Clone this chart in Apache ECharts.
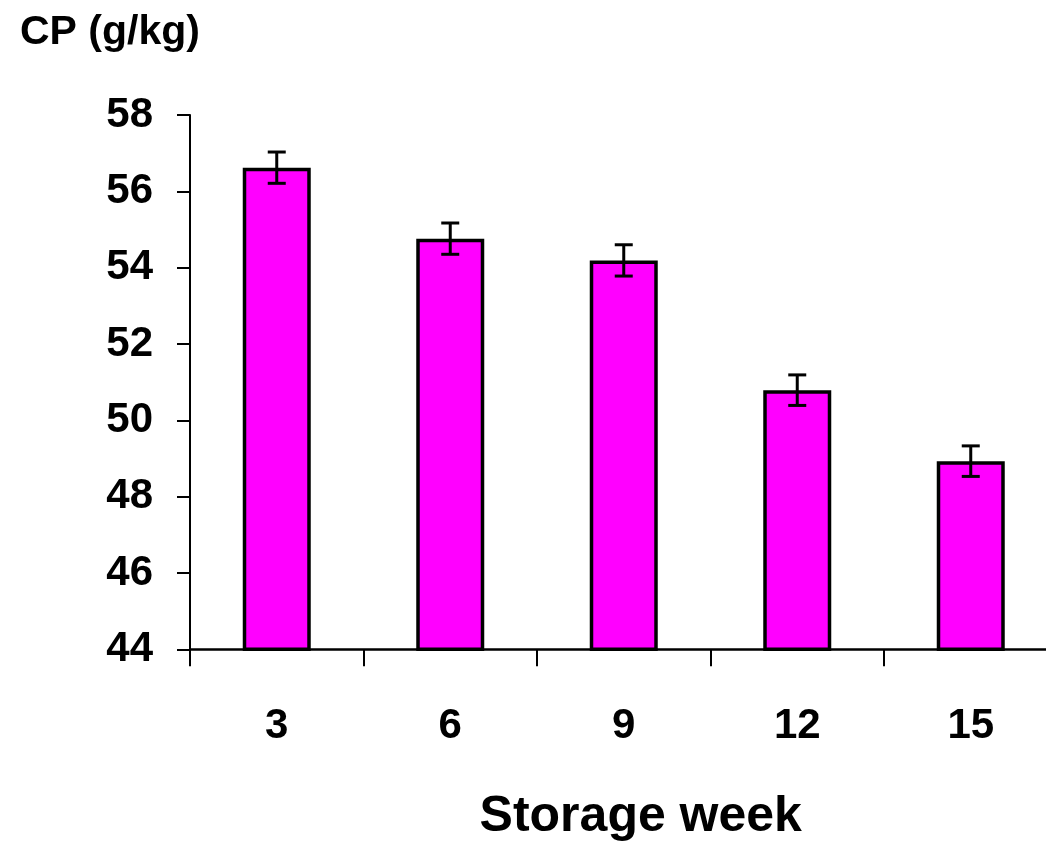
<!DOCTYPE html>
<html>
<head>
<meta charset="utf-8">
<script src="https://cdn.jsdelivr.net/npm/echarts@6/dist/echarts.min.js"></script>
<style>
html,body{margin:0;padding:0;background:#fff;}
#chart{width:1046px;height:849px;}
</style>
</head>
<body>
<div id="chart"></div>
<script>
const categories = ['3', '6', '9', '12', '15'];
const cpValues = [56.62, 54.76, 54.19, 50.79, 48.93];
const cpErrors = [0.41, 0.41, 0.41, 0.40, 0.40];
const yTicks = [44, 46, 48, 50, 52, 54, 56, 58];

const FONT = '"Liberation Sans", Arial, sans-serif';

const chart = echarts.init(document.getElementById('chart'));
const errorData = categories.map((c, i) => [i, cpValues[i] - cpErrors[i], cpValues[i] + cpErrors[i]]);

chart.setOption({
  animation: false,
  backgroundColor: '#ffffff',
  title: {
    text: 'CP (g/kg)',
    left: 15,
    top: 7,
    textStyle: { fontFamily: FONT, fontWeight: 'bold', fontSize: 41, color: '#000' }
  },
  grid: { left: 190, top: 115, width: 867.5, height: 534.3, containLabel: false, outerBoundsMode: 'none' },
  xAxis: {
    type: 'category',
    data: categories,
    name: 'Storage week',
    nameLocation: 'middle',
    nameGap: 143,
    nameTextStyle: { fontFamily: FONT, fontWeight: 'bold', fontSize: 50, color: '#000', padding: [0, 0, 0, 34] },
    axisLine: { show: true, lineStyle: { color: '#000', width: 2.5 } },
    axisTick: { show: true, inside: false, alignWithLabel: false, interval: 0, length: 17, lineStyle: { color: '#000', width: 2 } },
    axisLabel: { margin: 56, fontFamily: FONT, fontWeight: 'bold', fontSize: 42, color: '#000' }
  },
  yAxis: {
    type: 'value',
    min: yTicks[0],
    max: yTicks[yTicks.length - 1],
    interval: 2,
    axisLine: { show: true, lineStyle: { color: '#000', width: 2 } },
    axisTick: { show: true, length: 13, lineStyle: { color: '#000', width: 2 } },
    splitLine: { show: false },
    axisLabel: { margin: 37, fontFamily: FONT, fontWeight: 'bold', fontSize: 42, color: '#000' }
  },
  series: [
    {
      type: 'bar',
      data: cpValues,
      barWidth: 68,
      itemStyle: { color: '#ff00ff', borderColor: '#000', borderWidth: 3.5 }
    },
    {
      type: 'custom',
      data: errorData,
      z: 10,
      renderItem: function (params, api) {
        const x = api.value(0);
        const lo = api.coord([x, api.value(1)]);
        const hi = api.coord([x, api.value(2)]);
        const hw = 9;
        const style = { stroke: '#000', lineWidth: 3 };
        return {
          type: 'group',
          children: [
            { type: 'line', shape: { x1: hi[0], y1: hi[1], x2: lo[0], y2: lo[1] }, style: style },
            { type: 'line', shape: { x1: hi[0] - hw, y1: hi[1], x2: hi[0] + hw, y2: hi[1] }, style: style },
            { type: 'line', shape: { x1: lo[0] - hw, y1: lo[1], x2: lo[0] + hw, y2: lo[1] }, style: style }
          ]
        };
      }
    }
  ]
});
</script>
</body>
</html>
